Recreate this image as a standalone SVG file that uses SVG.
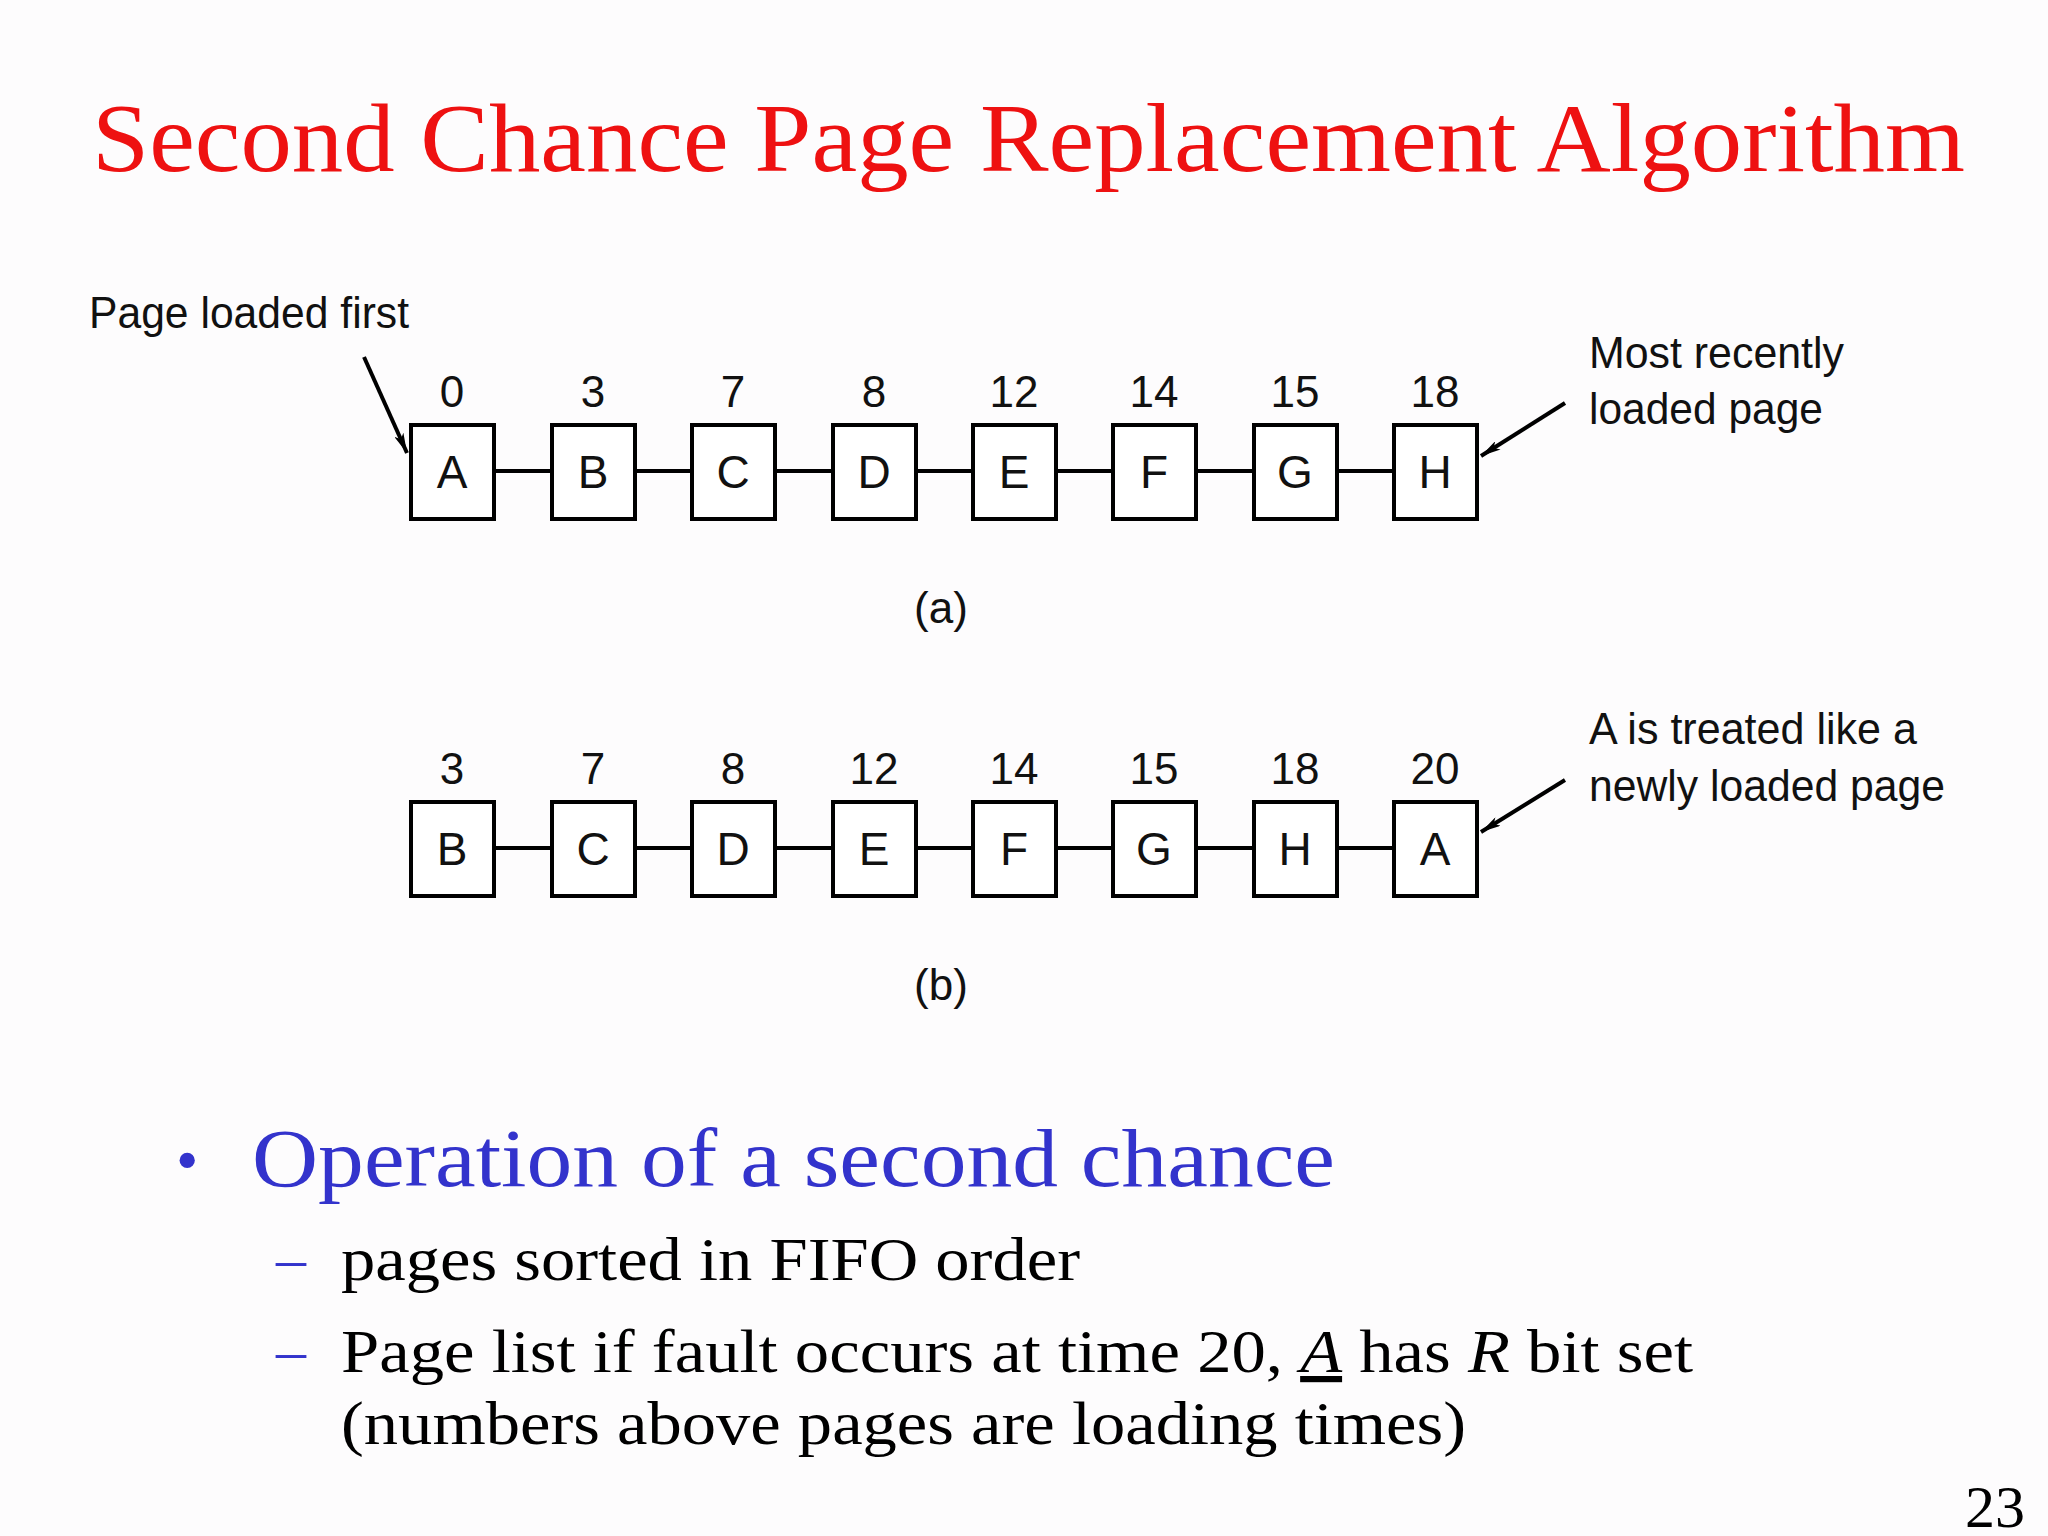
<svg xmlns="http://www.w3.org/2000/svg" width="2048" height="1536" viewBox="0 0 2048 1536">
<defs>
<style>
.box{fill:#fff;stroke:#000;stroke-width:4}
.h{font-family:"Liberation Sans",Arial,sans-serif;fill:#111}
.num{font-size:44px;text-anchor:middle}
.let{font-size:46px;text-anchor:middle}
.lbl{font-size:44px}
.t{font-family:"Liberation Serif","Times New Roman",serif}
.con{stroke:#000;stroke-width:4;fill:none}
</style>
<marker id="ar" viewBox="0 0 20 10" refX="20" refY="5" markerWidth="20" markerHeight="10" markerUnits="userSpaceOnUse" orient="auto"><path d="M0,0 L20,5 L0,10 L5,5 z" fill="#000"/></marker>
</defs>
<rect width="2048" height="1536" fill="#fdfcfd"/>
<text class="t" x="92" y="171" font-size="98" fill="#ee1111" textLength="1873" lengthAdjust="spacingAndGlyphs">Second Chance Page Replacement Algorithm</text>
<text class="h lbl" x="89" y="328" textLength="320" lengthAdjust="spacingAndGlyphs">Page loaded first</text>
<text class="h lbl" x="1589" y="368" textLength="255" lengthAdjust="spacingAndGlyphs">Most recently</text>
<text class="h lbl" x="1589" y="424" textLength="234" lengthAdjust="spacingAndGlyphs">loaded page</text>
<text class="h lbl" x="1589" y="744" textLength="328" lengthAdjust="spacingAndGlyphs">A is treated like a</text>
<text class="h lbl" x="1589" y="801" textLength="356" lengthAdjust="spacingAndGlyphs">newly loaded page</text>
<text class="h lbl" x="941" y="623" text-anchor="middle">(a)</text>
<text class="h lbl" x="941" y="1000" text-anchor="middle">(b)</text>
<g id="connectors">
<line class="con" x1="494" y1="471" x2="1436" y2="471"/>
<line class="con" x1="494" y1="848" x2="1436" y2="848"/>
<line class="con" x1="364" y1="357" x2="407" y2="453" marker-end="url(#ar)"/>
<line class="con" x1="1565" y1="403" x2="1481" y2="456" stroke-width="3" marker-end="url(#ar)"/>
<line class="con" x1="1565" y1="780" x2="1481" y2="832" stroke-width="3" marker-end="url(#ar)"/>
</g>
<g id="row-a" class="h">
<g id="a0"><rect class="box" x="411" y="425" width="83" height="94"/><text class="num" x="452" y="407">0</text><text class="let" x="452" y="488">A</text></g>
<g id="a1"><rect class="box" x="552" y="425" width="83" height="94"/><text class="num" x="593" y="407">3</text><text class="let" x="593" y="488">B</text></g>
<g id="a2"><rect class="box" x="692" y="425" width="83" height="94"/><text class="num" x="733" y="407">7</text><text class="let" x="733" y="488">C</text></g>
<g id="a3"><rect class="box" x="833" y="425" width="83" height="94"/><text class="num" x="874" y="407">8</text><text class="let" x="874" y="488">D</text></g>
<g id="a4"><rect class="box" x="973" y="425" width="83" height="94"/><text class="num" x="1014" y="407">12</text><text class="let" x="1014" y="488">E</text></g>
<g id="a5"><rect class="box" x="1113" y="425" width="83" height="94"/><text class="num" x="1154" y="407">14</text><text class="let" x="1154" y="488">F</text></g>
<g id="a6"><rect class="box" x="1254" y="425" width="83" height="94"/><text class="num" x="1295" y="407">15</text><text class="let" x="1295" y="488">G</text></g>
<g id="a7"><rect class="box" x="1394" y="425" width="83" height="94"/><text class="num" x="1435" y="407">18</text><text class="let" x="1435" y="488">H</text></g>
</g>
<g id="row-b" class="h">
<g id="b0"><rect class="box" x="411" y="802" width="83" height="94"/><text class="num" x="452" y="784">3</text><text class="let" x="452" y="865">B</text></g>
<g id="b1"><rect class="box" x="552" y="802" width="83" height="94"/><text class="num" x="593" y="784">7</text><text class="let" x="593" y="865">C</text></g>
<g id="b2"><rect class="box" x="692" y="802" width="83" height="94"/><text class="num" x="733" y="784">8</text><text class="let" x="733" y="865">D</text></g>
<g id="b3"><rect class="box" x="833" y="802" width="83" height="94"/><text class="num" x="874" y="784">12</text><text class="let" x="874" y="865">E</text></g>
<g id="b4"><rect class="box" x="973" y="802" width="83" height="94"/><text class="num" x="1014" y="784">14</text><text class="let" x="1014" y="865">F</text></g>
<g id="b5"><rect class="box" x="1113" y="802" width="83" height="94"/><text class="num" x="1154" y="784">15</text><text class="let" x="1154" y="865">G</text></g>
<g id="b6"><rect class="box" x="1254" y="802" width="83" height="94"/><text class="num" x="1295" y="784">18</text><text class="let" x="1295" y="865">H</text></g>
<g id="b7"><rect class="box" x="1394" y="802" width="83" height="94"/><text class="num" x="1435" y="784">20</text><text class="let" x="1435" y="865">A</text></g>
</g>
<text class="t" x="176" y="1182" font-size="64" fill="#3333cc">•</text>
<text class="t" x="252" y="1186" font-size="82" fill="#3333cc" textLength="1083" lengthAdjust="spacingAndGlyphs">Operation of a second chance</text>
<text class="t" x="276" y="1278" font-size="60" fill="#3333cc">–</text>
<text class="t" x="341" y="1280" font-size="62" fill="#000" textLength="739" lengthAdjust="spacingAndGlyphs">pages sorted in FIFO order</text>
<text class="t" x="276" y="1370" font-size="60" fill="#3333cc">–</text>
<text class="t" x="341" y="1372" font-size="62" fill="#000" textLength="1352" lengthAdjust="spacingAndGlyphs">Page list if fault occurs at time 20, <tspan font-style="italic" text-decoration="underline">A</tspan> has <tspan font-style="italic">R</tspan> bit set</text>
<text class="t" x="341" y="1444" font-size="62" fill="#000" textLength="1125" lengthAdjust="spacingAndGlyphs">(numbers above pages are loading times)</text>
<text class="t" x="1965" y="1527" font-size="60" fill="#000">23</text>
</svg>
